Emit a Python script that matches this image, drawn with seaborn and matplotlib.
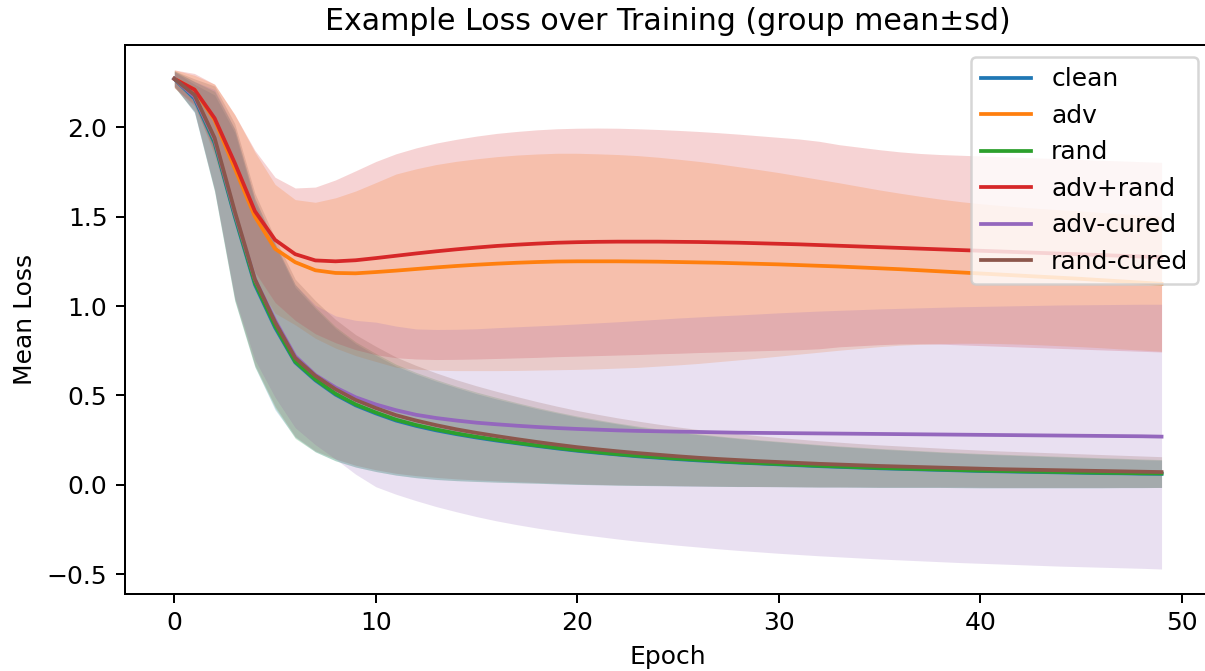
import numpy as np
import matplotlib
matplotlib.use("Agg")
import matplotlib.pyplot as plt
import seaborn as sns

# Epochs and group names
epochs = list(range(50))
groups = ["clean", "adv", "rand", "adv+rand", "adv-cured", "rand-cured"]

# Group means
clean_mean = [2.27, 2.16, 1.91, 1.50, 1.12, 0.88, 0.685, 0.585, 0.505, 0.445,
              0.40, 0.36, 0.33, 0.305, 0.284, 0.265, 0.248, 0.233, 0.218, 0.204,
              0.191, 0.18, 0.17, 0.16, 0.152, 0.144, 0.137, 0.131, 0.125, 0.12,
              0.115, 0.11, 0.105, 0.101, 0.097, 0.093, 0.09, 0.087, 0.084, 0.081,
              0.078, 0.076, 0.074, 0.072, 0.07, 0.068, 0.066, 0.065, 0.063, 0.062]
adv_mean = [2.27, 2.21, 2.04, 1.77, 1.50, 1.32, 1.245, 1.20, 1.185, 1.183,
            1.19, 1.198, 1.207, 1.216, 1.224, 1.231, 1.237, 1.242, 1.246, 1.249,
            1.25, 1.25, 1.25, 1.249, 1.248, 1.246, 1.244, 1.242, 1.239, 1.236,
            1.233, 1.229, 1.225, 1.221, 1.216, 1.211, 1.206, 1.2, 1.194, 1.188,
            1.182, 1.176, 1.17, 1.164, 1.158, 1.152, 1.145, 1.138, 1.131, 1.124]
rand_mean = [2.27, 2.17, 1.92, 1.51, 1.13, 0.89, 0.69, 0.59, 0.51, 0.45,
             0.405, 0.365, 0.335, 0.31, 0.288, 0.269, 0.252, 0.236, 0.221, 0.207,
             0.194, 0.183, 0.172, 0.163, 0.155, 0.147, 0.140, 0.133, 0.127, 0.122,
             0.117, 0.112, 0.107, 0.103, 0.099, 0.095, 0.092, 0.089, 0.086, 0.083,
             0.080, 0.078, 0.076, 0.074, 0.072, 0.070, 0.068, 0.067, 0.065, 0.064]
advrand_mean = [2.27, 2.21, 2.05, 1.80, 1.53, 1.37, 1.29, 1.255, 1.25, 1.256,
                1.268, 1.281, 1.294, 1.306, 1.317, 1.327, 1.336, 1.343, 1.349, 1.354,
                1.357, 1.359, 1.36, 1.36, 1.36, 1.359, 1.358, 1.356, 1.354, 1.351,
                1.348, 1.345, 1.341, 1.337, 1.333, 1.329, 1.325, 1.321, 1.317, 1.313,
                1.309, 1.305, 1.301, 1.297, 1.293, 1.289, 1.285, 1.281, 1.277, 1.273]
advcured_mean = [2.27, 2.17, 1.93, 1.52, 1.15, 0.92, 0.72, 0.615, 0.545, 0.49,
                 0.45, 0.418, 0.392, 0.374, 0.36, 0.348, 0.339, 0.331, 0.324, 0.318,
                 0.313, 0.309, 0.305, 0.302, 0.3, 0.298, 0.296, 0.294, 0.292, 0.291,
                 0.29, 0.289, 0.288, 0.287, 0.286, 0.285, 0.284, 0.283, 0.282, 0.281,
                 0.28, 0.279, 0.278, 0.277, 0.276, 0.275, 0.274, 0.273, 0.272, 0.27]
randcured_mean = [2.27, 2.18, 1.94, 1.53, 1.15, 0.91, 0.71, 0.61, 0.535, 0.475,
                  0.43, 0.39, 0.36, 0.334, 0.311, 0.291, 0.273, 0.256, 0.24, 0.225,
                  0.211, 0.199, 0.188, 0.178, 0.169, 0.16, 0.152, 0.145, 0.139, 0.133,
                  0.128, 0.123, 0.118, 0.114, 0.11, 0.106, 0.103, 0.1, 0.097, 0.094,
                  0.091, 0.088, 0.086, 0.084, 0.082, 0.08, 0.078, 0.076, 0.074, 0.072]

# Group standard deviations
clean_sd = [0.04, 0.08, 0.27, 0.47, 0.46, 0.46, 0.42, 0.40, 0.37, 0.345,
            0.325, 0.305, 0.29, 0.275, 0.26, 0.245, 0.232, 0.22, 0.208, 0.198,
            0.188, 0.179, 0.171, 0.163, 0.156, 0.15, 0.144, 0.139, 0.134, 0.129,
            0.125, 0.121, 0.117, 0.113, 0.11, 0.107, 0.104, 0.101, 0.098, 0.096,
            0.094, 0.092, 0.09, 0.088, 0.086, 0.084, 0.082, 0.08, 0.078, 0.076]
adv_sd = [0.05, 0.08, 0.2, 0.3, 0.36, 0.36, 0.35, 0.38, 0.42, 0.46,
          0.5, 0.54, 0.56, 0.575, 0.585, 0.592, 0.598, 0.602, 0.604, 0.605,
          0.604, 0.601, 0.597, 0.592, 0.584, 0.575, 0.565, 0.553, 0.54, 0.527,
          0.513, 0.498, 0.483, 0.468, 0.453, 0.438, 0.425, 0.414, 0.404, 0.396,
          0.39, 0.386, 0.383, 0.381, 0.38, 0.379, 0.378, 0.378, 0.377, 0.377]
rand_sd = [0.045, 0.085, 0.28, 0.48, 0.47, 0.46, 0.43, 0.405, 0.375, 0.35,
           0.33, 0.31, 0.294, 0.279, 0.264, 0.25, 0.237, 0.224, 0.212, 0.201,
           0.191, 0.182, 0.174, 0.166, 0.159, 0.152, 0.146, 0.141, 0.136, 0.131,
           0.127, 0.123, 0.119, 0.115, 0.112, 0.109, 0.106, 0.103, 0.1, 0.098,
           0.096, 0.094, 0.092, 0.09, 0.088, 0.086, 0.084, 0.082, 0.08, 0.078]
advrand_sd = [0.05, 0.09, 0.19, 0.27, 0.34, 0.35, 0.37, 0.41, 0.455, 0.5,
              0.54, 0.57, 0.59, 0.605, 0.615, 0.623, 0.629, 0.633, 0.636, 0.637,
              0.637, 0.636, 0.634, 0.631, 0.627, 0.623, 0.618, 0.613, 0.607, 0.601,
              0.595, 0.589, 0.58, 0.565, 0.555, 0.545, 0.537, 0.532, 0.53, 0.53,
              0.53, 0.53, 0.53, 0.53, 0.53, 0.53, 0.53, 0.53, 0.53, 0.53]
advcured_sd = [0.04, 0.085, 0.28, 0.47, 0.45, 0.43, 0.4, 0.39, 0.4, 0.43,
               0.46, 0.47, 0.48, 0.495, 0.51, 0.525, 0.54, 0.553, 0.565, 0.576,
               0.587, 0.597, 0.607, 0.617, 0.626, 0.635, 0.643, 0.651, 0.658, 0.665,
               0.672, 0.678, 0.684, 0.689, 0.694, 0.699, 0.703, 0.707, 0.711, 0.715,
               0.718, 0.721, 0.724, 0.727, 0.73, 0.732, 0.734, 0.736, 0.738, 0.74]
randcured_sd = [0.045, 0.09, 0.29, 0.49, 0.48, 0.47, 0.44, 0.42, 0.39, 0.365,
                0.345, 0.325, 0.308, 0.292, 0.277, 0.263, 0.25, 0.238, 0.226, 0.215,
                0.205, 0.196, 0.187, 0.179, 0.171, 0.164, 0.158, 0.152, 0.147, 0.142,
                0.137, 0.133, 0.129, 0.125, 0.121, 0.118, 0.115, 0.112, 0.109, 0.106,
                0.104, 0.102, 0.1, 0.098, 0.096, 0.094, 0.092, 0.09, 0.088, 0.086]

means = [clean_mean, adv_mean, rand_mean, advrand_mean, advcured_mean, randcured_mean]
sds = [clean_sd, adv_sd, rand_sd, advrand_sd, advcured_sd, randcured_sd]

palette = sns.color_palette("tab10", len(groups))

# reference looks like it was rendered at ~180 dpi
fig = plt.figure(figsize=(1205 / 180, 671 / 180), dpi=180)
ax = fig.add_axes([0.1037, 0.1148, 0.9012, 0.8182])

for name, m, s, c in zip(groups, means, sds, palette):
    m = np.array(m)
    s = np.array(s)
    sns.lineplot(x=epochs, y=m, label=name, color=c, ax=ax)
    ax.fill_between(epochs, m - s, m + s, color=c, alpha=0.2, linewidth=0)

ax.set_title("Example Loss over Training (group mean±sd)")
ax.set_xlabel("Epoch")
ax.set_ylabel("Mean Loss")
ax.legend(loc="upper right")

fig.savefig("out.png", dpi=180)
